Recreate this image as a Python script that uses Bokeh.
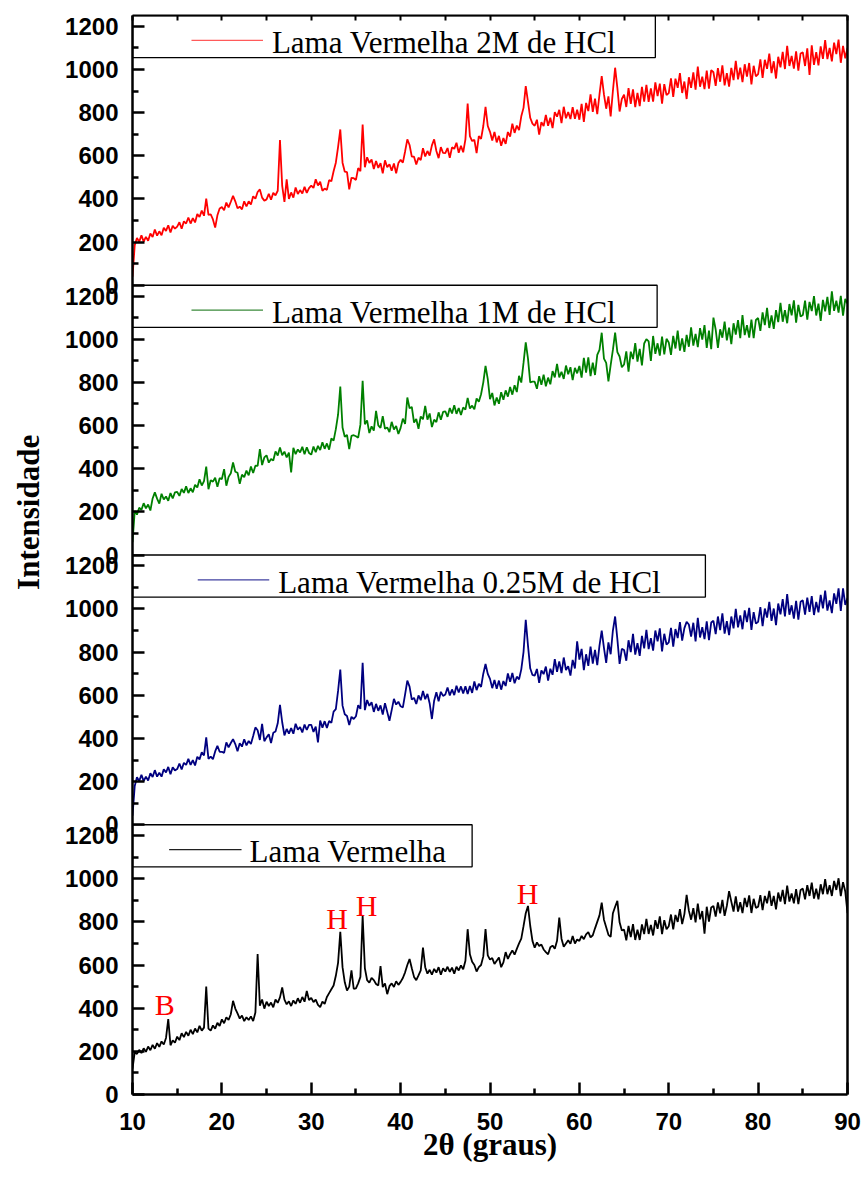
import numpy as np
from bokeh.plotting import figure
from bokeh.models import (LinearAxis, FixedTicker, CustomJSTickFormatter, Range1d, AllLabels)
from bokeh.core.properties import value
from bokeh.embed import file_html
from bokeh.resources import INLINE

# ---------------- data ----------------
two_theta = np.round(np.arange(10, 90.0001, 0.25), 2)   # sampling grid, 10..90 deg

lama_vermelha = [
    120, 196, 188, 207, 192, 214, 198, 222, 205, 230, 212, 238, 221, 246, 232, 262, 349, 228, 251, 240,
    268, 252, 284, 266, 290, 272, 300, 280, 306, 288, 318, 296, 310, 500, 305, 296, 320, 305, 332, 318,
    348, 330, 358, 345, 372, 434, 398, 376, 352, 366, 340, 358, 345, 362, 340, 380, 651, 412, 440, 398,
    430, 410, 426, 404, 440, 425, 450, 496, 440, 418, 432, 410, 436, 420, 446, 425, 452, 430, 480, 438,
    448, 428, 440, 415, 405, 430, 420, 452, 470, 488, 505, 550, 610, 754, 590, 520, 482, 500, 575, 490,
    492, 515, 545, 827, 585, 530, 518, 540, 530, 512, 505, 595, 498, 515, 465, 502, 515, 498, 525, 508,
    522, 540, 566, 600, 628, 585, 545, 530, 552, 575, 681, 590, 560, 578, 555, 582, 565, 590, 555, 585,
    570, 592, 568, 588, 560, 592, 575, 598, 580, 620, 766, 650, 615, 600, 570, 590, 600, 640, 766, 645,
    625, 632, 605, 620, 635, 590, 612, 660, 628, 650, 668, 648, 675, 700, 722, 780, 840, 874, 782, 712,
    680, 705, 688, 695, 672, 660, 650, 682, 690, 675, 712, 820, 722, 685, 700, 715, 698, 735, 700, 718,
    712, 735, 720, 742, 752, 728, 738, 770, 800, 830, 889, 810, 775, 740, 730, 840, 870, 897, 798, 760,
    764, 714, 781, 729, 789, 716, 764, 716, 788, 743, 814, 744, 786, 737, 808, 768, 825, 743, 808, 766,
    780, 834, 765, 832, 800, 859, 790, 836, 925, 852, 810, 864, 798, 885, 812, 850, 745, 870, 801, 867,
    874, 824, 890, 840, 902, 828, 874, 942, 894, 848, 918, 848, 891, 841, 911, 869, 923, 841, 907, 865,
    870, 924, 854, 920, 886, 944, 874, 920, 858, 936, 894, 948, 882, 968, 894, 932, 886, 952, 882, 948,
    954, 904, 970, 920, 982, 908, 954, 904, 974, 928, 998, 928, 970, 920, 990, 948, 1002, 919, 984, 941,
    840,
]

lama_025M = [
    42, 180, 220, 202, 232, 202, 223, 205, 239, 221, 253, 223, 241, 223, 257, 242, 268, 234, 266, 252,
    258, 284, 256, 287, 277, 305, 277, 299, 275, 315, 303, 336, 321, 405, 305, 316, 304, 340, 366, 338,
    338, 333, 382, 359, 379, 397, 374, 341, 378, 362, 396, 368, 388, 374, 411, 451, 438, 393, 467, 387,
    405, 419, 379, 426, 432, 470, 555, 475, 414, 444, 422, 448, 422, 468, 441, 452, 428, 464, 439, 463,
    463, 430, 455, 382, 483, 450, 480, 449, 481, 472, 524, 536, 620, 719, 552, 512, 504, 462, 500, 490,
    503, 554, 537, 750, 531, 578, 551, 568, 523, 560, 528, 553, 511, 563, 523, 482, 531, 583, 557, 570,
    549, 544, 604, 668, 640, 580, 588, 560, 599, 577, 620, 582, 606, 562, 490, 575, 614, 572, 616, 597,
    604, 636, 599, 627, 601, 644, 613, 641, 608, 642, 606, 643, 611, 664, 624, 653, 639, 700, 745, 699,
    676, 633, 671, 630, 668, 626, 666, 643, 701, 662, 703, 656, 686, 674, 720, 800, 950, 830, 725, 694,
    691, 722, 658, 715, 698, 733, 668, 723, 695, 767, 709, 757, 703, 775, 717, 735, 691, 764, 724, 850,
    765, 815, 716, 790, 736, 825, 747, 810, 740, 830, 900, 820, 750, 845, 790, 900, 965, 860, 745, 815,
    810, 760, 855, 800, 885, 788, 841, 783, 875, 817, 903, 814, 865, 807, 900, 850, 910, 803, 885, 835,
    845, 912, 825, 907, 865, 939, 853, 911, 940, 928, 872, 936, 850, 959, 868, 916, 860, 942, 855, 937,
    945, 883, 965, 902, 980, 886, 943, 879, 965, 910, 1000, 915, 970, 906, 993, 939, 1005, 903, 985, 932,
    940, 1008, 920, 1002, 960, 1033, 945, 1002, 925, 1025, 975, 1045, 965, 1069, 973, 1017, 955, 1038, 950, 1033,
    1040, 974, 1053, 986, 1060, 972, 1033, 984, 1065, 1003, 1085, 992, 1040, 981, 1072, 1024, 1095, 991, 1095, 1019,
    1050,
]

lama_1M = [
    59, 204, 187, 219, 209, 240, 216, 234, 206, 262, 290, 261, 238, 284, 257, 271, 251, 287, 262, 290,
    292, 274, 306, 288, 318, 287, 309, 291, 325, 313, 351, 322, 342, 410, 305, 346, 340, 358, 316, 356,
    352, 398, 321, 362, 379, 429, 386, 381, 330, 372, 361, 391, 369, 410, 380, 414, 413, 491, 417, 452,
    462, 428, 445, 438, 480, 461, 498, 462, 479, 452, 474, 383, 497, 467, 489, 475, 501, 467, 499, 473,
    465, 503, 476, 506, 486, 522, 492, 517, 488, 540, 530, 583, 650, 781, 591, 548, 556, 491, 552, 555,
    550, 544, 604, 807, 606, 624, 565, 596, 576, 668, 601, 589, 643, 585, 591, 570, 617, 582, 598, 561,
    589, 632, 607, 730, 680, 686, 614, 630, 585, 642, 629, 691, 627, 656, 593, 627, 616, 661, 627, 663,
    666, 640, 681, 656, 694, 654, 681, 649, 684, 674, 728, 679, 692, 675, 725, 710, 745, 800, 876, 815,
    722, 751, 693, 730, 701, 754, 719, 763, 734, 779, 743, 787, 755, 830, 799, 890, 985, 910, 800, 803,
    803, 770, 829, 789, 836, 782, 822, 791, 852, 823, 885, 823, 849, 816, 878, 838, 870, 810, 867, 842,
    876, 822, 913, 845, 916, 829, 891, 834, 927, 950, 1030, 910, 890, 805, 880, 950, 1030, 940, 920, 870,
    883, 944, 850, 942, 908, 982, 896, 955, 879, 980, 1000, 990, 899, 1015, 932, 981, 924, 1012, 930, 1002,
    985, 927, 1015, 957, 1040, 947, 1004, 941, 1020, 965, 1055, 970, 1025, 963, 1051, 998, 1065, 960, 1040, 954,
    1100, 1045, 960, 1046, 1007, 1081, 995, 1054, 977, 1074, 1021, 1088, 1005, 1112, 1019, 1065, 1007, 1091, 1005, 1089,
    1098, 1039, 1124, 1065, 1145, 1052, 1110, 1048, 1135, 1079, 1168, 1081, 1135, 1074, 1163, 1111, 1180, 1077, 1159, 1105,
    1112, 1179, 1091, 1173, 1130, 1200, 1110, 1165, 1085, 1182, 1129, 1196, 1113, 1222, 1131, 1179, 1123, 1201, 1109, 1187,
    1165,
]

lama_2M = [
    40, 186, 219, 201, 232, 202, 224, 206, 240, 224, 258, 230, 250, 232, 266, 252, 278, 244, 276, 262,
    272, 292, 262, 296, 286, 314, 286, 311, 291, 330, 316, 346, 322, 401, 326, 329, 305, 267, 324, 356,
    362, 348, 383, 361, 387, 414, 389, 357, 364, 352, 389, 365, 389, 374, 412, 401, 432, 444, 406, 392,
    398, 424, 396, 428, 417, 438, 673, 460, 386, 491, 400, 430, 406, 453, 423, 441, 425, 456, 428, 450,
    462, 451, 491, 462, 480, 438, 448, 442, 487, 482, 528, 568, 640, 722, 568, 526, 524, 444, 498, 496,
    488, 543, 529, 745, 547, 593, 567, 583, 539, 576, 544, 566, 519, 579, 547, 561, 531, 564, 519, 566,
    581, 568, 620, 676, 650, 596, 596, 560, 591, 580, 635, 597, 622, 601, 648, 676, 622, 589, 640, 613,
    612, 636, 591, 639, 632, 660, 614, 646, 616, 676, 842, 691, 668, 674, 612, 691, 678, 738, 827, 738,
    711, 671, 710, 662, 692, 646, 682, 655, 710, 689, 749, 706, 740, 719, 783, 822, 923, 850, 776, 749,
    739, 767, 698, 756, 738, 789, 739, 776, 728, 802, 781, 813, 751, 827, 774, 803, 770, 825, 771, 814,
    767, 840, 757, 845, 807, 885, 803, 865, 793, 884, 969, 884, 818, 875, 782, 900, 1008, 915, 805, 863,
    883, 826, 914, 841, 908, 825, 891, 830, 919, 851, 929, 850, 912, 851, 940, 877, 934, 841, 932, 881,
    890, 959, 873, 957, 915, 983, 891, 944, 863, 964, 915, 986, 906, 1013, 920, 967, 909, 995, 911, 997,
    987, 924, 1006, 943, 1019, 926, 983, 920, 1007, 951, 1040, 954, 1008, 941, 1024, 967, 1030, 931, 1017, 968,
    978, 1047, 961, 1045, 1003, 1073, 983, 1038, 958, 1059, 1010, 1081, 1002, 1109, 1016, 1063, 1004, 1084, 994, 1074,
    1079, 1016, 1098, 975, 1112, 1021, 1080, 1019, 1107, 1049, 1136, 1048, 1100, 1037, 1124, 1071, 1138, 1031, 1109, 1052,
    1100,
]

series_names = ["Lama Vermelha", "Lama Vermelha 0.25M de HCl",
                "Lama Vermelha 1M de HCl", "Lama Vermelha 2M de HCl"]
series_values = [lama_vermelha, lama_025M, lama_1M, lama_2M]

y_tick_values = [0, 200, 400, 600, 800, 1000, 1200]
y_minor_values = [100, 300, 500, 700, 900, 1100]
x_tick_values = [10, 20, 30, 40, 50, 60, 70, 80, 90]
x_minor_values = [15, 25, 35, 45, 55, 65, 75, 85]

peak_labels = ["B", "H", "H", "H"]
peak_x = [13.6, 32.9, 36.2, 54.2]
peak_y = [417, 816, 876, 931]

# ---------------- layout / style ----------------
PANEL = 1250          # each stacked panel spans 0..1250 intensity units
series_colors = ["#000000", "#000080", "#008000", "#FF0000"]
sample_colors = ["#202020", "#4040a0", "#3a8a3a", "#ff5a5a"]
legend_right = [48.0, 74.1, 68.7, 68.5]
sample_x0 = [14.1, 17.3, 16.6, 16.6]
sample_x1 = [22.2, 25.3, 24.6, 24.6]
text_x0 = [23.1, 26.3, 25.6, 25.6]

p = figure(width=862, height=1190, x_range=Range1d(10, 90), y_range=Range1d(0, 4 * PANEL),
           output_backend="svg", toolbar_location=None,
           x_axis_location=None, y_axis_location=None,
           min_border_left=132, min_border_right=15, min_border_top=15, min_border_bottom=96,
           background_fill_color="white", border_fill_color="white", outline_line_color=None)
p.grid.visible = False

AX_W = 2.5
tick_font = dict(major_label_text_font="Liberation Sans", major_label_text_font_style="bold",
                 major_label_text_font_size="24px", major_label_text_color="black")
title_font = dict(axis_label_text_font="Liberation Serif", axis_label_text_font_style="bold",
                  axis_label_text_font_size="31px", axis_label_text_color="black")

majors = [k * PANEL + v for k in range(4) for v in y_tick_values]
minors = [k * PANEL + v for k in range(4) for v in y_minor_values]
left = LinearAxis(ticker=FixedTicker(ticks=majors, minor_ticks=minors),
                  formatter=CustomJSTickFormatter(code="return String(Math.round(tick) % 1250);"),
                  major_label_policy=AllLabels(),
                  axis_line_width=AX_W, major_tick_line_width=AX_W, minor_tick_line_width=AX_W,
                  major_tick_in=12, major_tick_out=0, minor_tick_in=6, minor_tick_out=0,
                  major_label_standoff=14,
                  axis_label="\u00a0" * 11 + "Intensidade", axis_label_standoff=16,
                  **tick_font, **title_font)
p.add_layout(left, "left")

bottom = LinearAxis(ticker=FixedTicker(ticks=x_tick_values, minor_ticks=x_minor_values),
                    major_label_policy=AllLabels(),
                    axis_line_width=AX_W, major_tick_line_width=AX_W, minor_tick_line_width=AX_W,
                    major_tick_in=12, major_tick_out=0, minor_tick_in=6, minor_tick_out=0,
                    major_label_standoff=18,
                    axis_label="2θ (graus)", axis_label_standoff=-6,
                    **tick_font, **title_font)
p.add_layout(bottom, "below")

top = LinearAxis(ticker=FixedTicker(ticks=x_tick_values + x_minor_values),
                 formatter=CustomJSTickFormatter(code="return '';"),
                 axis_line_width=2, major_tick_line_width=2, major_tick_in=5, major_tick_out=0,
                 minor_tick_line_color=None, major_label_text_font_size="1px")
p.add_layout(top, "above")

right = LinearAxis(ticker=FixedTicker(ticks=[]), axis_line_width=AX_W,
                   major_tick_line_color=None, minor_tick_line_color=None,
                   major_label_text_font_size="1px")
p.add_layout(right, "right")

# spectra
for k, (vals, col) in enumerate(zip(series_values, series_colors)):
    p.line(two_theta, np.array(vals) + k * PANEL, line_color=col, line_width=1.8)

# legend boxes
offs = [k * PANEL for k in range(4)]
p.quad(left=[10] * 4, right=legend_right, bottom=[o + 1055 for o in offs], top=[o + 1250 for o in offs],
       fill_color="white", line_color="black", line_width=1.3)
p.multi_line(xs=[[a, b] for a, b in zip(sample_x0, sample_x1)],
             ys=[[o + 1135, o + 1135] for o in offs], line_color=sample_colors, line_width=1.3)
p.text(x=text_x0, y=[o + 1124 for o in offs], text=series_names,
       text_font=value("Liberation Serif"), text_font_size="31px", text_color="black",
       text_align="left", text_baseline="middle")

# peak markers
p.text(x=peak_x, y=peak_y, text=peak_labels, text_color="#FF0000",
       text_font=value("Liberation Serif"), text_font_size="30px",
       text_align="center", text_baseline="middle")

open("out.html", "w").write(file_html(p, INLINE))
